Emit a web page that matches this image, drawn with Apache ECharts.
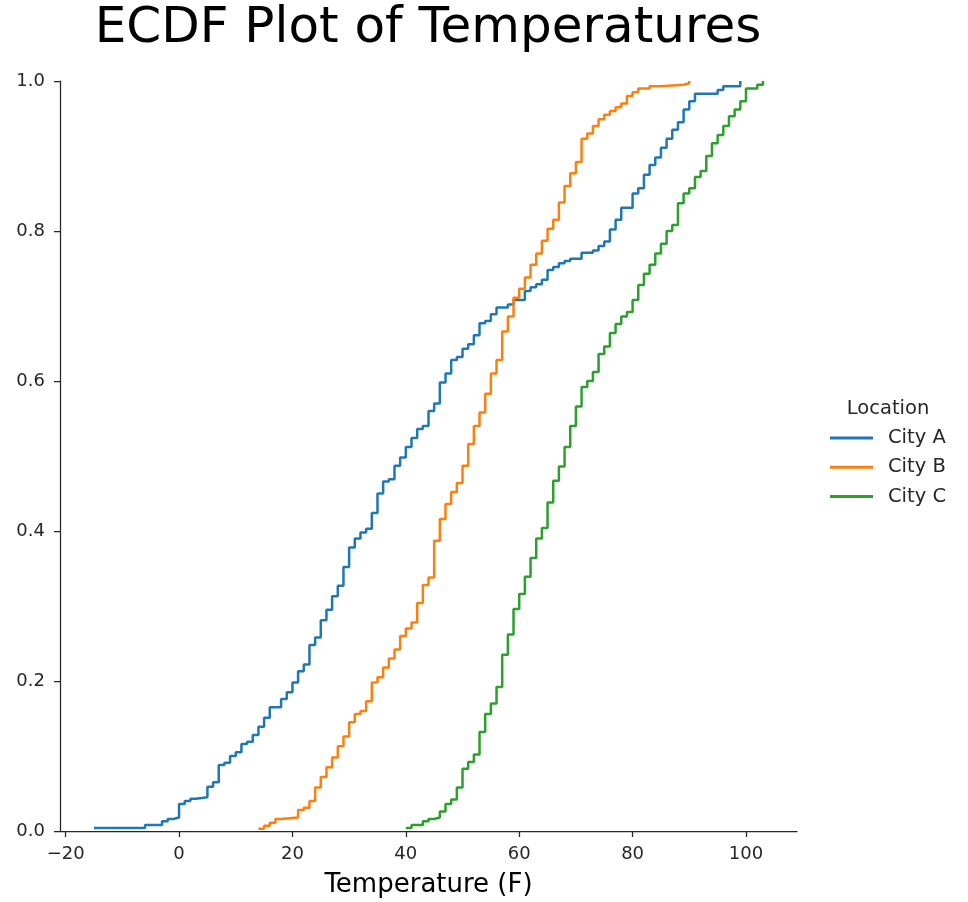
<!DOCTYPE html>
<html>
<head>
<meta charset="utf-8">
<title>ECDF Plot of Temperatures</title>
<script src="https://cdn.jsdelivr.net/npm/echarts@6/dist/echarts.min.js"></script>
<style>
  html, body { margin: 0; padding: 0; background: #fff; }
  #main { width: 968px; height: 902px; }
</style>
</head>
<body>
<div id="main"></div>
<script>
// step positions (temperature) and cumulative proportion after each step
var cityATemps = [-15, -6, -3, -2, -1, 0, 1, 2, 3, 5, 6, 7, 8, 9, 10, 11, 12, 13, 14, 15, 16, 18, 19, 20, 21, 22, 23, 24, 25, 26, 27, 28, 29, 30, 31, 32, 33, 34, 35, 36, 37, 38, 39, 40, 41, 42, 43, 44, 45, 46, 47, 48, 49, 50, 51, 52, 53, 54, 55, 56, 58, 59, 61, 62, 63, 64, 65, 66, 67, 68, 69, 71, 73, 74, 75, 76, 77, 78, 80, 81, 82, 83, 84, 85, 86, 87, 88, 89, 90, 91, 95, 96, 99];
var cityAProps = [0.004, 0.008, 0.013, 0.016, 0.018, 0.036, 0.04, 0.043, 0.045, 0.059, 0.065, 0.088, 0.091, 0.1, 0.105, 0.116, 0.119, 0.128, 0.139, 0.151, 0.165, 0.176, 0.185, 0.198, 0.213, 0.222, 0.248, 0.258, 0.281, 0.295, 0.313, 0.327, 0.352, 0.378, 0.39, 0.398, 0.403, 0.424, 0.45, 0.466, 0.469, 0.487, 0.498, 0.512, 0.524, 0.536, 0.54, 0.56, 0.57, 0.598, 0.61, 0.628, 0.632, 0.643, 0.649, 0.661, 0.677, 0.68, 0.689, 0.698, 0.702, 0.708, 0.72, 0.725, 0.729, 0.735, 0.748, 0.752, 0.757, 0.76, 0.763, 0.771, 0.774, 0.78, 0.786, 0.802, 0.815, 0.831, 0.85, 0.857, 0.875, 0.888, 0.898, 0.911, 0.923, 0.935, 0.945, 0.962, 0.973, 0.983, 0.988, 0.993, 1.0];

var cityBTemps = [14, 15, 16, 17, 18, 21, 22, 23, 24, 25, 26, 27, 28, 29, 30, 31, 32, 33, 34, 35, 36, 37, 38, 39, 40, 41, 42, 43, 44, 45, 46, 47, 48, 49, 50, 51, 52, 53, 54, 55, 56, 57, 58, 59, 60, 61, 62, 63, 64, 65, 66, 67, 68, 69, 70, 71, 72, 73, 74, 75, 76, 77, 78, 79, 80, 81, 83, 85, 89, 90];
var cityBProps = [0.003, 0.007, 0.011, 0.016, 0.018, 0.028, 0.031, 0.04, 0.058, 0.072, 0.085, 0.098, 0.113, 0.126, 0.145, 0.156, 0.16, 0.173, 0.198, 0.205, 0.218, 0.23, 0.242, 0.26, 0.27, 0.278, 0.304, 0.328, 0.338, 0.387, 0.416, 0.436, 0.452, 0.464, 0.487, 0.516, 0.54, 0.558, 0.583, 0.61, 0.628, 0.666, 0.686, 0.711, 0.723, 0.738, 0.755, 0.77, 0.787, 0.803, 0.815, 0.838, 0.86, 0.877, 0.892, 0.923, 0.93, 0.94, 0.949, 0.955, 0.96, 0.965, 0.97, 0.98, 0.985, 0.99, 0.993, 0.995, 0.997, 1.0];

var cityCTemps = [40, 41, 43, 44, 45, 46, 47, 48, 49, 50, 51, 52, 53, 54, 55, 56, 57, 58, 59, 60, 61, 62, 63, 64, 65, 66, 67, 68, 69, 70, 71, 72, 73, 74, 75, 76, 77, 78, 79, 80, 81, 82, 83, 84, 85, 86, 87, 88, 89, 90, 91, 92, 93, 94, 95, 96, 97, 98, 99, 100, 102, 103];
var cityCProps = [0.004, 0.008, 0.013, 0.016, 0.018, 0.026, 0.036, 0.042, 0.058, 0.083, 0.092, 0.102, 0.132, 0.156, 0.17, 0.192, 0.235, 0.262, 0.296, 0.316, 0.339, 0.364, 0.39, 0.404, 0.438, 0.467, 0.486, 0.512, 0.54, 0.566, 0.592, 0.6, 0.612, 0.636, 0.646, 0.664, 0.676, 0.686, 0.692, 0.708, 0.728, 0.743, 0.755, 0.77, 0.783, 0.8, 0.808, 0.837, 0.85, 0.857, 0.872, 0.88, 0.9, 0.917, 0.928, 0.94, 0.953, 0.962, 0.973, 0.99, 0.995, 1.0];

var cityNames = ['City A', 'City B', 'City C'];
var cityColors = ['#1f77b4', '#ff7f0e', '#2ca02c'];
var xTicks = [-20, 0, 20, 40, 60, 80, 100];

var chartDom = document.getElementById('main');
var myChart = echarts.init(chartDom, null, { renderer: 'canvas' });
var option;

var FONT = 'DejaVu Sans';
var INK = '#262626';

function zip(xs, ys) {
  return xs.map(function (x, i) { return [x, ys[i]]; });
}

var cityData = [
  zip(cityATemps, cityAProps),
  zip(cityBTemps, cityBProps),
  zip(cityCTemps, cityCProps)
];

option = {
  animation: false,
  backgroundColor: '#ffffff',
  grid: { left: 60, right: 171, top: 81, bottom: 71, outerBoundsMode: 'none' },
  graphic: [
    {
      type: 'text', x: 428, y: 29,
      style: { text: 'ECDF Plot of Temperatures', font: '50px "DejaVu Sans"', fill: '#000', align: 'center', verticalAlign: 'middle' }
    },
    {
      type: 'text', x: 888, y: 409,
      style: { text: 'Location', font: '19.5px "DejaVu Sans"', fill: INK, align: 'center', verticalAlign: 'middle' }
    }
  ],
  legend: {
    data: cityNames,
    orient: 'vertical',
    left: 825,
    top: 423,
    icon: 'rect',
    itemWidth: 43,
    itemHeight: 3,
    itemGap: 9.3,
    textStyle: { fontFamily: FONT, fontSize: 19.5, color: INK, lineHeight: 20, padding: [0, 0, 0, 10] }
  },
  xAxis: {
    type: 'value',
    min: -21,
    max: 109,
    name: 'Temperature (F)',
    nameLocation: 'middle',
    nameGap: 41,
    nameTextStyle: { fontFamily: FONT, fontSize: 26, color: '#000' },
    axisLine: { show: true, onZero: false, lineStyle: { color: INK, width: 1.25 } },
    axisTick: { show: true, length: 6, customValues: xTicks, lineStyle: { color: INK, width: 1.25 } },
    axisLabel: {
      customValues: xTicks,
      margin: 14,
      fontFamily: FONT, fontSize: 18, color: INK,
      formatter: function (v) { return String(v).replace('-', '\u2212'); }
    },
    splitLine: { show: false }
  },
  yAxis: {
    type: 'value',
    min: 0,
    max: 1,
    interval: 0.2,
    axisLine: { show: true, onZero: false, lineStyle: { color: INK, width: 1.25 } },
    axisTick: { show: true, length: 6, lineStyle: { color: INK, width: 1.25 } },
    axisLabel: {
      margin: 15,
      fontFamily: FONT, fontSize: 18, color: INK,
      formatter: function (v) { return v.toFixed(1); }
    },
    splitLine: { show: false }
  },
  series: cityNames.map(function (name, i) {
    return {
      name: name,
      type: 'line',
      step: 'end',
      symbol: 'none',
      showSymbol: false,
      clip: false,
      color: cityColors[i],
      lineStyle: { color: cityColors[i], width: 2.5 },
      data: cityData[i]
    };
  })
};

option && myChart.setOption(option);
</script>
</body>
</html>
